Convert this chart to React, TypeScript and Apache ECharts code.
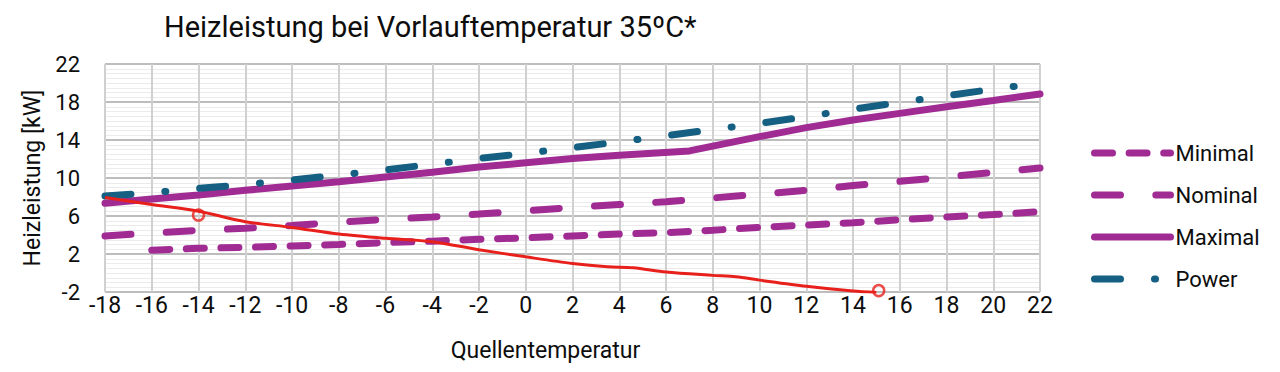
import React, { useEffect, useRef } from "react";
import * as echarts from "echarts";

const temps = [-18, -16, -14, -12, -10, -8, -6, -4, -2, 0, 2, 4, 6, 8, 10, 12, 14, 16, 18, 20, 22];
const minimalTemps = [-16, -14, -12, -10, -8, -6, -4, -2, 0, 2, 4, 6, 8, 10, 12, 14, 16, 18, 20, 22];
const minimalValues = [2.4, 2.6, 2.7, 2.85, 3.0, 3.2, 3.35, 3.55, 3.7, 3.9, 4.1, 4.25, 4.5, 4.8, 5.05, 5.3, 5.6, 5.9, 6.15, 6.45];
const nominalValues = [3.9, 4.2, 4.5, 4.7, 5.0, 5.35, 5.65, 5.9, 6.2, 6.55, 6.9, 7.2, 7.5, 7.9, 8.3, 8.7, 9.2, 9.65, 10.1, 10.6, 11.05];
const maximalTemps = [-18, -16, -14, -12, -10, -8, -6, -4, -2, 0, 2, 4, 7, 8, 10, 12, 14, 16, 18, 20, 22];
const maximalValues = [7.35, 7.8, 8.2, 8.7, 9.15, 9.6, 10.1, 10.6, 11.15, 11.6, 12.05, 12.4, 12.85, 13.35, 14.35, 15.3, 16.1, 16.8, 17.5, 18.15, 18.85];
const powerValues = [8.1, 8.45, 8.9, 9.3, 9.8, 10.3, 10.85, 11.45, 12.05, 12.6, 13.2, 13.8, 14.45, 15.1, 15.75, 16.45, 17.25, 17.95, 18.65, 19.35, 20.0];
const redTemps = [-18, -16, -14, -12, -10, -8, -6, -4, -2, 0, 2, 3.5, 4.6, 6, 8, 9, 10, 12, 14, 15];
const redValues = [7.95, 7.2, 6.5, 5.4, 4.8, 4.1, 3.65, 3.3, 2.45, 1.7, 1.0, 0.65, 0.55, 0.1, -0.25, -0.4, -0.75, -1.4, -1.9, -2.05];
const circleTemps = [-14, 15.1];
const circleValues = [6.1, -1.85];
const seriesNames = ["Minimal", "Nominal", "Maximal", "Power"];

const FONT = "Roboto";
const PURPLE = "#A02B93";
const TEAL = "#156082";
const RED = "#E8201C";
const TEXT = "#0d0d0d";

const zip = (xs: number[], ys: number[]) => xs.map((x, i) => [x, ys[i]]);

export default function App() {
  const ref = useRef<HTMLDivElement>(null);
  useEffect(() => {
    const chart = echarts.init(ref.current!, null, { renderer: "svg" });
    chart.setOption({
      animation: false,
      backgroundColor: "#ffffff",
      textStyle: { fontFamily: FONT },
      title: {
        text: "Heizleistung bei Vorlauftemperatur 35ºC*",
        left: 159,
        top: 7,
        textStyle: { fontFamily: FONT, fontSize: 29, fontWeight: "normal", color: TEXT },
      },
      legend: {
        data: seriesNames,
        orient: "vertical",
        left: 1086,
        top: 137,
        itemWidth: 76,
        itemHeight: 8,
        itemGap: 20,
        lineStyle: { width: 7, cap: "round" },
        itemStyle: { color: "rgba(0,0,0,0)", borderColor: "rgba(0,0,0,0)", borderWidth: 0 },
        textStyle: { fontFamily: FONT, fontSize: 22, color: TEXT, lineHeight: 22 },
      },
      grid: { left: 105, right: 240, top: 64, bottom: 80, containLabel: false },
      xAxis: {
        type: "value",
        min: -18,
        max: 22,
        interval: 2,
        name: "Quellentemperatur",
        nameLocation: "middle",
        nameGap: 47,
        nameTextStyle: { fontFamily: FONT, fontSize: 23, color: TEXT, padding: [0, 54, 0, 0] },
        axisLine: { show: false },
        axisTick: { show: false },
        axisLabel: { fontFamily: FONT, fontSize: 23, color: TEXT, margin: 2 },
        splitLine: { show: true, lineStyle: { color: "#d0d0d0", width: 2 } },
      },
      yAxis: {
        type: "value",
        min: -2,
        max: 22,
        interval: 4,
        name: "Heizleistung [kW]",
        nameLocation: "middle",
        nameRotate: 90,
        nameGap: 60,
        nameTextStyle: { fontFamily: FONT, fontSize: 23, color: TEXT },
        axisLine: { show: false },
        axisTick: { show: false },
        axisLabel: { fontFamily: FONT, fontSize: 22, color: TEXT, margin: 25 },
        splitLine: { show: true, lineStyle: { color: "#bdbdbd", width: 2 } },
        minorTick: { show: false, splitNumber: 8 },
        minorSplitLine: { show: true, lineStyle: { color: "#ebebeb", width: 1 } },
      },
      series: [
        {
          name: "Minimal",
          type: "line",
          symbol: "none",
          data: zip(minimalTemps, minimalValues),
          lineStyle: { color: PURPLE, width: 7, type: [18, 16.6], cap: "round" },
          itemStyle: { color: PURPLE },
          z: 3,
        },
        {
          name: "Nominal",
          type: "line",
          symbol: "none",
          data: zip(temps, nominalValues),
          lineStyle: { color: PURPLE, width: 7, type: [26, 35.3], cap: "round" },
          itemStyle: { color: PURPLE },
          z: 3,
        },
        {
          name: "Maximal",
          type: "line",
          symbol: "none",
          data: zip(maximalTemps, maximalValues),
          lineStyle: { color: PURPLE, width: 7, type: "solid", cap: "round" },
          itemStyle: { color: PURPLE },
          z: 3,
        },
        {
          name: "Power",
          type: "line",
          symbol: "none",
          data: zip(temps, powerValues),
          lineStyle: { color: TEAL, width: 7, type: [26, 34, 1, 34], cap: "round" },
          itemStyle: { color: TEAL },
          z: 3,
        },
        {
          name: "annotation",
          type: "line",
          symbol: "none",
          smooth: 0.3,
          data: zip(redTemps, redValues),
          lineStyle: { color: RED, width: 3 },
          itemStyle: { color: RED },
          z: 4,
        },
        {
          name: "annotationCircles",
          type: "scatter",
          symbol: "circle",
          symbolSize: 11,
          clip: false,
          data: zip(circleTemps, circleValues),
          itemStyle: { color: "rgba(0,0,0,0)", borderColor: RED, borderWidth: 2.5 },
          z: 5,
        },
      ],
    });
    return () => chart.dispose();
  }, []);
  return (
    <div
      ref={ref}
      style={{ position: "absolute", left: 0, top: 0, width: 1280, height: 372 }}
    />
  );
}
